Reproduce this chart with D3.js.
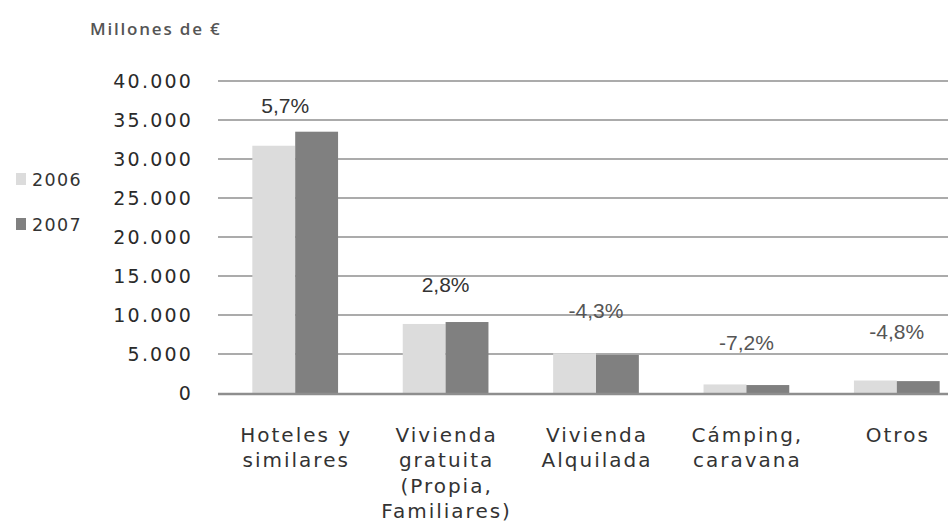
<!DOCTYPE html>
<html>
<head>
<meta charset="utf-8">
<script src="https://cdn.jsdelivr.net/npm/d3@7"></script>
<style>
  html, body { margin: 0; padding: 0; background: #fff; }
  svg { display: block; }
</style>
</head>
<body>
<div id="chart"></div>
<script>
const categories = [
  ["Hoteles y", "similares"],
  ["Vivienda", "gratuita", "(Propia,", "Familiares)"],
  ["Vivienda", "Alquilada"],
  ["Cámping,", "caravana"],
  ["Otros"]
];
const series = ["2006", "2007"];
const values2006 = [31700, 8850, 5100, 1100, 1600];
const values2007 = [33500, 9100, 4880, 1020, 1525];
const changeLabels = ["5,7%", "2,8%", "-4,3%", "-7,2%", "-4,8%"];
const yTicks = [0, 5000, 10000, 15000, 20000, 25000, 30000, 35000, 40000];
const unitLabel = "Millones de €";

const width = 948, height = 524;
const colors = {"2006": "#dcdcdc", "2007": "#808080"};

const locale = d3.formatLocale({decimal: ",", thousands: ".", grouping: [3], currency: ["", "€"]});
const fmt = locale.format(",d");

const svg = d3.select("#chart").append("svg")
  .attr("width", width)
  .attr("height", height);

const x = d3.scaleBand()
  .domain(d3.range(categories.length))
  .range([220, 972])
  .paddingInner(0.43)
  .paddingOuter(0.215);

const xs = d3.scaleBand().domain(series).range([0, x.bandwidth()]);

const y = d3.scaleLinear().domain([0, 40000]).range([393, 81]);

// gridlines
svg.append("g")
  .selectAll("line")
  .data(yTicks.filter(d => d > 0))
  .join("line")
  .attr("x1", 218).attr("x2", width)
  .attr("y1", d => y(d)).attr("y2", d => y(d))
  .attr("stroke", "#ababab")
  .attr("stroke-width", 2);

// y axis labels
const yAxis = svg.append("g")
  .attr("transform", "translate(193,0)")
  .call(d3.axisLeft(y).tickValues(yTicks).tickFormat(fmt).tickSize(0).tickPadding(0));
yAxis.select(".domain").remove();
yAxis.selectAll("text")
  .attr("fill", "#2a2a2a")
  .attr("font-family", "DejaVu Sans, Verdana, sans-serif")
  .attr("font-size", "19px")
  .attr("letter-spacing", "2.2px");

// bars
const groups = svg.append("g")
  .selectAll("g")
  .data(categories.map((c, i) => ({i, v: [values2006[i], values2007[i]]})))
  .join("g")
  .attr("transform", d => `translate(${x(d.i)},0)`);

groups.selectAll("rect")
  .data(d => series.map((s, k) => ({s, v: d.v[k]})))
  .join("rect")
  .attr("x", d => xs(d.s))
  .attr("width", xs.bandwidth())
  .attr("y", d => y(d.v))
  .attr("height", d => y(0) - y(d.v))
  .attr("fill", d => colors[d.s]);

// baseline
svg.append("line")
  .attr("x1", 218).attr("x2", width)
  .attr("y1", y(0) + 1).attr("y2", y(0) + 1)
  .attr("stroke", "#8e8e8e")
  .attr("stroke-width", 2.5);

// change labels
const labelY = [113, 292, 318, 350, 339];
svg.append("g")
  .selectAll("text")
  .data(changeLabels)
  .join("text")
  .attr("x", (d, i) => x(i) + x.bandwidth() / 2 - (i === 0 ? 10 : 0))
  .attr("y", (d, i) => labelY[i])
  .attr("text-anchor", "middle")
  .attr("font-family", "Liberation Sans, Arial, sans-serif")
  .attr("font-size", "21px")
  .attr("fill", (d, i) => i < 2 ? "#333" : "#555")
  .text(d => d);

// category labels
const cat = svg.append("g")
  .selectAll("text")
  .data(categories)
  .join("text")
  .attr("x", (d, i) => x(i) + x.bandwidth() / 2 + 1)
  .attr("y", 442)
  .attr("text-anchor", "middle")
  .attr("font-family", "DejaVu Sans, sans-serif")
  .attr("font-size", "20px")
  .attr("letter-spacing", "2px")
  .attr("fill", "#333");
cat.selectAll("tspan")
  .data(d => d)
  .join("tspan")
  .attr("x", function () { return d3.select(this.parentNode).attr("x"); })
  .attr("dy", (d, i) => i === 0 ? 0 : 25.3)
  .text(d => d);

// legend
const legend = svg.append("g")
  .selectAll("g")
  .data(series)
  .join("g")
  .attr("transform", (d, i) => `translate(16,${173 + i * 45})`);
legend.append("rect")
  .attr("width", 10).attr("height", 12)
  .attr("fill", d => colors[d]);
legend.append("text")
  .attr("x", 16).attr("y", 13)
  .attr("font-family", "DejaVu Sans, sans-serif")
  .attr("font-size", "17.5px")
  .attr("letter-spacing", "1.4px")
  .attr("fill", "#333")
  .text(d => d);

// unit label
svg.append("text")
  .attr("x", 90).attr("y", 35)
  .attr("font-family", "Open Sans, sans-serif")
  .attr("font-size", "17px")
  .attr("font-weight", 600)
  .attr("letter-spacing", "1.8px")
  .attr("fill", "#555")
  .text(unitLabel);
</script>
</body>
</html>
